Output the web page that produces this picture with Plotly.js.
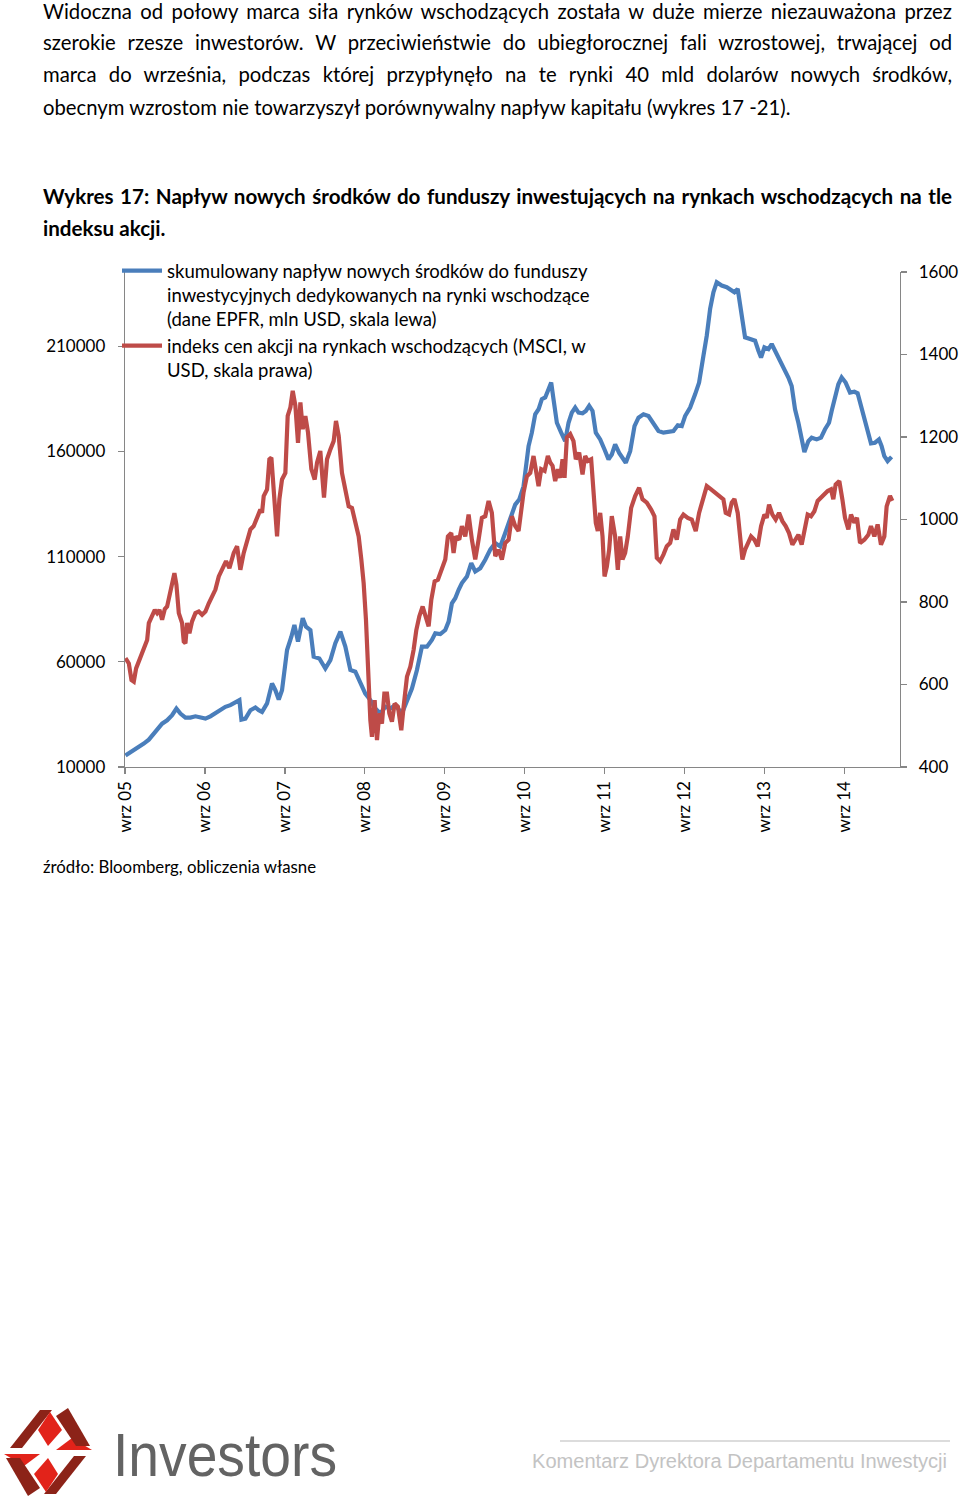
<!DOCTYPE html>
<html>
<head>
<meta charset="utf-8">
<script src="https://cdn.plot.ly/plotly-3.0.1.min.js"></script>
<style>
html,body{margin:0;padding:0;background:#fff;}
#page{position:relative;width:960px;height:1503px;overflow:hidden;font-family:Lato,"Open Sans",sans-serif;color:#000;}
.ln{position:absolute;left:43px;width:909px;font-size:20.3px;line-height:22px;white-space:nowrap;}
.j{white-space:normal;text-align:justify;text-align-last:justify;}
.b{font-weight:bold;font-size:20.6px;}
#chart{position:absolute;left:0;top:240px;width:960px;height:660px;}
#foot{position:absolute;left:0;top:1400px;}
</style>
</head>
<body>
<div id="page">
  <div class="ln j" style="top:0px">Widoczna od połowy marca siła rynków wschodzących została w duże mierze niezauważona przez</div>
  <div class="ln j" style="top:31px">szerokie rzesze inwestorów. W przeciwieństwie do ubiegłorocznej fali wzrostowej, trwającej od</div>
  <div class="ln j" style="top:63px">marca do września, podczas której przypłynęło na te rynki 40 mld dolarów nowych środków,</div>
  <div class="ln" style="top:96px">obecnym wzrostom nie towarzyszył porównywalny napływ kapitału (wykres 17 -21).</div>

  <div class="ln j b" style="top:185px">Wykres 17: Napływ nowych środków do funduszy inwestujących na rynkach wschodzących na tle</div>
  <div class="ln b" style="top:217px">indeksu akcji.</div>

  <div id="chart"></div>

  <div class="ln" style="top:856px;font-size:16.8px;">źródło: Bloomberg, obliczenia własne</div>

  <svg id="foot" width="960" height="103" viewBox="0 0 960 103">
    <g>
      <polygon points="40,10 52,10 22,48 10,48" fill="#8c2318"/>
      <polygon points="56,94 44,94 74,56 86,56" fill="#8c2318"/>
      <polygon points="50,12 62,30 48,46 38,30" fill="#e2231a"/>
      <polygon points="46,92 34,74 48,58 58,74" fill="#e2231a"/>
      <polygon points="4,54 22,54 40,54 24,66" fill="#e2231a"/>
      <polygon points="92,50 74,50 56,50 72,38" fill="#e2231a"/>
      <polygon points="6,58 20,58 40,88 28,96" fill="#8c2318"/>
      <polygon points="90,46 76,46 56,16 68,8" fill="#8c2318"/>
    </g>
    <text x="113" y="76" font-family="Liberation Sans, Arial, sans-serif" font-size="61" fill="#636363" textLength="224" lengthAdjust="spacingAndGlyphs">Investors</text>
    <line x1="560" y1="41" x2="950" y2="41" stroke="#dcdcdc" stroke-width="2"/>
    <text x="532" y="68" font-family="Liberation Sans, Arial, sans-serif" font-size="20" fill="#c3c3c3" textLength="415" lengthAdjust="spacingAndGlyphs">Komentarz Dyrektora Departamentu Inwestycji</text>
  </svg>
</div>

<script>
// Time points as decimal years (Sept 2005 = 2005.667)
const flowTime = [2005.673,2005.736,2005.777,2005.840,2005.902,2005.965,2006.027,2006.069,2006.131,2006.194,2006.256,2006.310,2006.360,2006.423,2006.485,2006.548,2006.610,2006.673,2006.735,2006.798,2006.860,2006.923,2006.985,2007.048,2007.098,2007.123,2007.173,2007.236,2007.298,2007.340,2007.381,2007.444,2007.506,2007.548,2007.590,2007.631,2007.694,2007.748,2007.786,2007.831,2007.890,2007.931,2007.986,2008.027,2008.098,2008.173,2008.236,2008.298,2008.361,2008.423,2008.486,2008.548,2008.611,2008.673,2008.736,2008.798,2008.861,2008.923,2008.986,2009.048,2009.131,2009.194,2009.256,2009.319,2009.381,2009.444,2009.506,2009.548,2009.611,2009.673,2009.715,2009.756,2009.798,2009.840,2009.881,2009.944,2009.998,2010.048,2010.111,2010.173,2010.236,2010.298,2010.361,2010.423,2010.486,2010.548,2010.598,2010.652,2010.715,2010.756,2010.798,2010.840,2010.881,2010.923,2010.956,2010.998,2011.027,2011.069,2011.123,2011.173,2011.215,2011.256,2011.298,2011.340,2011.390,2011.431,2011.473,2011.515,2011.556,2011.611,2011.665,2011.715,2011.756,2011.798,2011.848,2011.890,2011.931,2011.986,2012.040,2012.090,2012.152,2012.215,2012.277,2012.340,2012.402,2012.465,2012.527,2012.581,2012.631,2012.673,2012.736,2012.798,2012.848,2012.902,2012.944,2012.986,2013.027,2013.069,2013.131,2013.194,2013.248,2013.290,2013.331,2013.381,2013.423,2013.486,2013.548,2013.590,2013.623,2013.665,2013.715,2013.756,2013.798,2013.840,2013.902,2013.965,2014.006,2014.048,2014.090,2014.131,2014.165,2014.215,2014.256,2014.319,2014.373,2014.423,2014.473,2014.506,2014.548,2014.590,2014.631,2014.681,2014.736,2014.790,2014.831,2014.873,2014.923,2014.973,2014.998,2015.048,2015.098,2015.131,2015.165,2015.206,2015.256];
// Cumulative inflows to EM funds, mln USD (left axis)
const flowValues = [15500,17100,17600,19500,21100,23000,25900,28200,30600,32200,34600,37800,35400,33500,33500,34100,33800,33000,34100,35700,36700,38600,39400,40500,41800,32500,33000,37000,38300,37000,36200,40200,49700,46500,42100,46500,65600,71900,77500,69600,80700,76700,75100,62400,61600,56800,60800,68800,74300,67200,56100,55300,50500,44900,41800,37800,35400,38600,37800,39400,35400,41800,47300,56100,67200,67200,70400,73500,73200,75100,79100,87800,90200,94200,97400,100500,106900,102900,104500,108500,113300,116400,114800,121200,127600,134700,137100,143400,162500,168900,177600,180000,184800,185600,188700,192700,184800,173600,168900,164900,173600,178400,180800,178400,178100,179200,181600,179200,168900,165700,160900,156200,158500,163300,159300,157000,154600,160100,172000,176000,177600,176800,173600,169700,168900,169200,169700,172400,172000,176800,180800,187100,192700,205400,215000,227700,235600,240400,238800,238000,236400,235600,237200,222900,214200,213400,212600,207800,204600,209400,208600,211000,207800,204600,200700,195100,191100,180000,173600,164900,159700,164900,166500,165700,166500,170500,173600,179200,186400,191900,195100,192700,187900,188300,187600,181600,173600,167300,163800,164100,165700,162500,157700,155400,157400];

const msciTime = [2005.673,2005.715,2005.748,2005.777,2005.806,2005.861,2005.902,2005.944,2005.965,2006.006,2006.040,2006.069,2006.098,2006.131,2006.165,2006.194,2006.223,2006.248,2006.285,2006.310,2006.340,2006.381,2006.402,2006.423,2006.444,2006.473,2006.506,2006.548,2006.590,2006.631,2006.673,2006.715,2006.756,2006.798,2006.840,2006.890,2006.931,2006.973,2007.027,2007.069,2007.110,2007.152,2007.194,2007.236,2007.277,2007.319,2007.360,2007.381,2007.402,2007.444,2007.473,2007.498,2007.527,2007.569,2007.598,2007.631,2007.673,2007.702,2007.736,2007.765,2007.798,2007.831,2007.861,2007.890,2007.923,2007.956,2007.998,2008.040,2008.069,2008.110,2008.156,2008.194,2008.236,2008.277,2008.306,2008.340,2008.381,2008.423,2008.465,2008.506,2008.548,2008.590,2008.623,2008.652,2008.681,2008.706,2008.736,2008.756,2008.790,2008.819,2008.848,2008.881,2008.911,2008.944,2008.973,2009.006,2009.040,2009.081,2009.123,2009.152,2009.194,2009.236,2009.277,2009.311,2009.348,2009.390,2009.431,2009.465,2009.498,2009.540,2009.581,2009.623,2009.673,2009.706,2009.748,2009.777,2009.806,2009.848,2009.881,2009.923,2009.965,2010.006,2010.048,2010.090,2010.131,2010.173,2010.215,2010.256,2010.298,2010.340,2010.381,2010.423,2010.465,2010.506,2010.548,2010.590,2010.623,2010.652,2010.694,2010.736,2010.777,2010.806,2010.840,2010.873,2010.915,2010.956,2010.986,2011.015,2011.048,2011.081,2011.110,2011.140,2011.165,2011.194,2011.236,2011.277,2011.306,2011.348,2011.390,2011.423,2011.456,2011.498,2011.527,2011.556,2011.581,2011.611,2011.640,2011.665,2011.694,2011.723,2011.756,2011.798,2011.831,2011.861,2011.890,2011.923,2011.956,2011.998,2012.048,2012.098,2012.140,2012.194,2012.248,2012.290,2012.319,2012.361,2012.402,2012.444,2012.486,2012.527,2012.569,2012.611,2012.652,2012.706,2012.756,2012.806,2012.848,2012.890,2012.944,2012.998,2013.048,2013.098,2013.152,2013.181,2013.223,2013.256,2013.290,2013.331,2013.361,2013.390,2013.423,2013.456,2013.498,2013.540,2013.581,2013.623,2013.665,2013.694,2013.723,2013.765,2013.806,2013.848,2013.890,2013.931,2013.973,2014.015,2014.056,2014.090,2014.131,2014.165,2014.206,2014.248,2014.290,2014.331,2014.373,2014.415,2014.456,2014.498,2014.527,2014.556,2014.602,2014.640,2014.673,2014.715,2014.748,2014.790,2014.823,2014.861,2014.915,2014.965,2014.998,2015.040,2015.081,2015.123,2015.165,2015.194,2015.236,2015.265];
// MSCI EM price index in USD (right axis)
const msciValues = [664,651,611,607,639,664,684,708,749,765,781,773,781,757,783,789,814,830,870,842,773,749,704,700,749,724,753,773,777,769,777,797,814,830,862,886,899,882,919,935,878,919,951,976,984,1008,1024,1016,1057,1073,1146,1150,1073,959,1049,1097,1113,1251,1272,1312,1276,1186,1284,1219,1251,1211,1122,1097,1138,1166,1053,1146,1170,1190,1239,1203,1113,1073,1032,1028,992,959,903,846,757,619,513,473,562,465,530,505,578,578,530,510,554,546,489,546,619,643,684,732,765,789,757,741,805,850,854,878,903,959,967,919,959,951,984,959,1012,951,903,951,1004,1008,1045,1016,911,927,903,943,951,1008,984,972,1024,1065,1105,1113,1154,1113,1081,1122,1118,1154,1138,1130,1093,1122,1101,1146,1101,1199,1207,1190,1146,1162,1109,1154,1142,1146,1073,992,972,1016,959,862,886,927,1008,959,878,959,903,919,959,1028,1057,1077,1049,1041,1024,1008,907,899,915,935,943,976,951,1000,1012,1004,1000,972,1016,1045,1081,1073,1065,1057,1049,1016,1012,1041,1050,1016,959,903,927,943,959,951,935,984,1012,1004,1036,1012,1000,1016,996,984,967,939,951,963,939,976,1012,1008,1020,1045,1053,1061,1069,1073,1049,1085,1093,1049,1004,976,1012,992,1004,943,951,963,984,959,988,939,959,1032,1057,1045];

const xTickVals = [2005.667,2006.667,2007.667,2008.667,2009.667,2010.667,2011.667,2012.667,2013.667,2014.667];
const xTickText = ['wrz 05','wrz 06','wrz 07','wrz 08','wrz 09','wrz 10','wrz 11','wrz 12','wrz 13','wrz 14'];
const leftTicks = [10000,60000,110000,160000,210000];
const rightTicks = [400,600,800,1000,1200,1400,1600];

const flowName = 'skumulowany napływ nowych środków do funduszy<br>inwestycyjnych dedykowanych na rynki wschodzące<br>(dane EPFR, mln USD, skala lewa)';
const msciName = 'indeks cen akcji na rynkach wschodzących (MSCI, w<br>USD, skala prawa)';

const axisColor = '#868686';

const traces = [
  {x: flowTime, y: flowValues, name: flowName, type: 'scatter', mode: 'lines',
   line: {color: '#4a7ebb', width: 4.2}, yaxis: 'y', hoverinfo: 'skip'},
  {x: msciTime, y: msciValues, name: msciName, type: 'scatter', mode: 'lines',
   line: {color: '#be4b48', width: 4.2}, yaxis: 'y2', hoverinfo: 'skip'}
];

const layout = {
  width: 960, height: 660,
  margin: {l: 125, r: 60, t: 32, b: 133, pad: 0, autoexpand: false},
  paper_bgcolor: 'rgba(0,0,0,0)', plot_bgcolor: 'rgba(0,0,0,0)',
  font: {family: 'Lato, "Open Sans", sans-serif', size: 17, color: '#000'},
  showlegend: true,
  legend: {x: 117/960, y: 1 - 12/660, xref: 'container', yref: 'container',
           xanchor: 'left', yanchor: 'top', bgcolor: 'rgba(0,0,0,0)',
           font: {size: 18.5, color: '#000'}, valign: 'top', itemwidth: 40,
           traceorder: 'normal', borderwidth: 0},
  xaxis: {range: [2005.667, 2015.361], tickmode: 'array', tickvals: xTickVals, ticktext: xTickText,
          tickangle: -90, ticks: 'outside', ticklen: 6, tickcolor: axisColor, tickwidth: 1.3,
          showline: true, linecolor: axisColor, linewidth: 1.3, showgrid: false, zeroline: false,
          fixedrange: true},
  yaxis: {range: [10000, 245238], tickmode: 'array', tickvals: leftTicks, ticktext: leftTicks.map(String),
          ticks: 'outside', ticklen: 6, tickcolor: axisColor, tickwidth: 1.3, ticklabelstandoff: 9,
          showline: true, linecolor: axisColor, linewidth: 1.3, showgrid: false, zeroline: false,
          fixedrange: true},
  yaxis2: {range: [400, 1600], overlaying: 'y', side: 'right', tickmode: 'array', tickvals: rightTicks,
           ticktext: rightTicks.map(String), ticks: 'outside', ticklen: 6, tickcolor: axisColor, tickwidth: 1.3,
           ticklabelstandoff: 8,
           showline: true, linecolor: axisColor, linewidth: 1.3, showgrid: false, zeroline: false,
           fixedrange: true}
};

Plotly.newPlot('chart', traces, layout, {staticPlot: true, displayModeBar: false});
</script>
</body>
</html>
